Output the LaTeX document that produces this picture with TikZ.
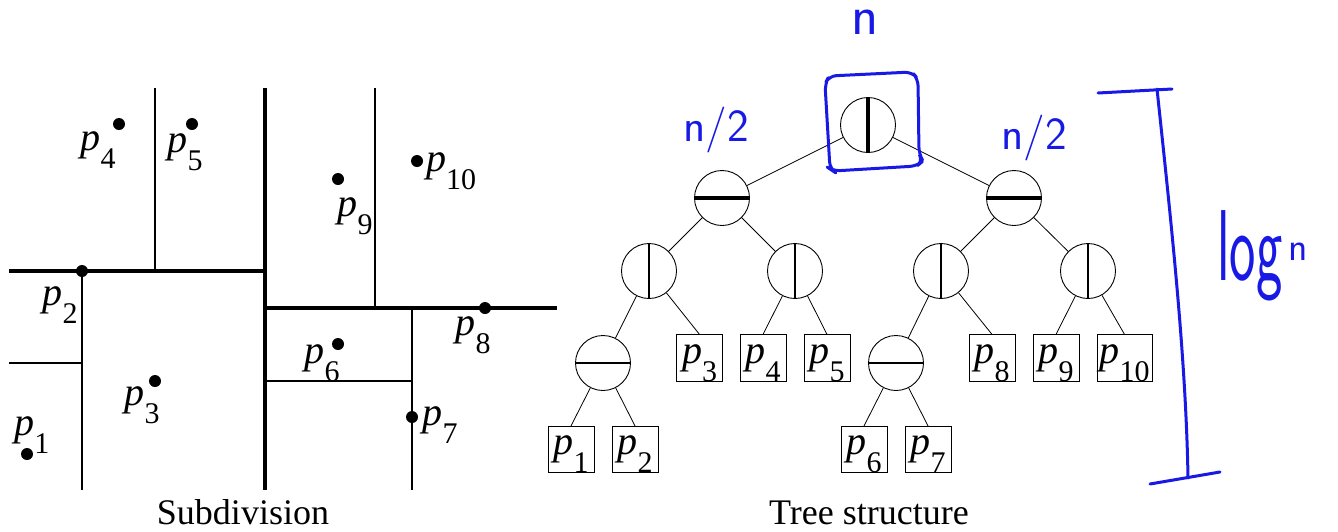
\documentclass[tikz,border=0pt]{standalone}
\usepackage{fontspec}
\setmainfont{Liberation Serif}
\usepackage{xcolor}
\usepackage{tikz}
\usetikzlibrary{positioning,calc}

\definecolor{pen}{RGB}{25,25,230}
\newcommand{\pl}[1]{\textit{p}\raisebox{-0.45em}{\fontsize{30}{30}\selectfont #1}}

\begin{document}
\begin{tikzpicture}[
  x=1pt, y=-1pt,
  font=\fontsize{40}{44}\selectfont,
  cell/.style={circle, draw, line width=0.9pt, minimum size=55pt, inner sep=0pt},
  vcut/.style={cell, path picture={\draw[line width=#1]
      (path picture bounding box.north) -- (path picture bounding box.south);}},
  hcut/.style={cell, path picture={\draw[line width=#1]
      (path picture bounding box.west) -- (path picture bounding box.east);}},
  leaf/.style={draw, line width=0.8pt, inner sep=0pt, inner xsep=2.5pt,
               minimum width=46pt, text height=28.4pt, text depth=18pt},
  link/.style={line width=0.8pt},
  thickcut/.style={line width=4.5pt},
  thincut/.style={line width=1.2pt},
  site/.style={circle, fill, inner sep=0pt, minimum size=12pt},
  lab/.style={inner sep=0pt},
  caption/.style={anchor=base, font=\fontsize{36}{40}\selectfont},
  hand/.style={pen, line width=3pt, line cap=round, line join=round},
  note/.style={text=pen, inner sep=0pt, font=\sffamily\fontsize{46}{46}\selectfont}
]
\useasboundingbox (0,0) rectangle (1338,531);

% Subdivision: cut lines
\draw[thickcut] (265,88) -- (265,490);
\draw[thickcut] (9,271) -- (265,271);
\draw[thickcut] (265,308) -- (557,308);
\draw[thincut] (82,271) -- (82,490);
\draw[thincut] (9,363) -- (82,363);
\draw[thincut] (155,88) -- (155,271);
\draw[thincut] (375,88) -- (375,308);
\draw[thincut] (412,308) -- (412,490);
\draw[thincut] (265,381) -- (412,381);

% Subdivision: points
\node[site] (s1) at (27,454) {};
\node[site] (s2) at (82,271) {};
\node[site] (s3) at (155,381) {};
\node[site] (s4) at (119,124) {};
\node[site] (s5) at (192,124) {};
\node[site] (s6) at (338,344) {};
\node[site] (s7) at (412,417) {};
\node[site] (s8) at (485,308) {};
\node[site] (s9) at (338,179) {};
\node[site] (s10) at (417,161) {};

\node[lab] (l1) at (32,435) {\pl{1}};
\node[lab] (l2) at (60,305) {\pl{2}};
\node[lab] (l3) at (142,405) {\pl{3}};
\node[lab] (l4) at (98,150) {\pl{4}};
\node[lab] (l5) at (185,152) {\pl{5}};
\node[lab] (l6) at (322,363) {\pl{6}};
\node[lab] (l7) at (440,425) {\pl{7}};
\node[lab] (l8) at (473,335) {\pl{8}};
\node[lab] (l9) at (355,216) {\pl{9}};
\node[lab] (l10) at (451,171) {\pl{10}};

\node[caption] (subcap) at (243,524) {Subdivision};

% Tree: inner nodes
\node[vcut=4pt] (r) at (868,125) {};
\node[hcut=3.5pt] (a) at (722,198) {};
\node[hcut=3.5pt] (b) at (1014,198) {};
\node[vcut=1.6pt] (aa) at (649,271) {};
\node[vcut=1.6pt] (ab) at (795,271) {};
\node[vcut=1.6pt] (ba) at (941,271) {};
\node[vcut=1.6pt] (bb) at (1088,271) {};
\node[hcut=1.1pt] (aaa) at (603,363) {};
\node[hcut=1.1pt] (baa) at (896,363) {};

% Tree: leaves
\node[leaf] (q3) at (699.5,358) {\pl{3}};
\node[leaf] (q4) at (763,358) {\pl{4}};
\node[leaf] (q5) at (827,358) {\pl{5}};
\node[leaf] (q8) at (992,358) {\pl{8}};
\node[leaf] (q9) at (1056,358) {\pl{9}};
\node[leaf] (q10) at (1124.5,358) {\pl{10}};
\node[leaf] (q1) at (571,449.5) {\pl{1}};
\node[leaf] (q2) at (635,449.5) {\pl{2}};
\node[leaf] (q6) at (864,449.5) {\pl{6}};
\node[leaf] (q7) at (928,449.5) {\pl{7}};

% Tree: edges
\draw[link] (r) -- (a);
\draw[link] (r) -- (b);
\draw[link] (a) -- (aa);
\draw[link] (a) -- (ab);
\draw[link] (b) -- (ba);
\draw[link] (b) -- (bb);
\draw[link] (aa) -- (aaa);
\draw[link] (aa) -- (q3.north);
\draw[link] (ab) -- (q4.north);
\draw[link] (ab) -- (q5.north);
\draw[link] (ba) -- (baa);
\draw[link] (ba) -- (q8.north);
\draw[link] (bb) -- (q9.north);
\draw[link] (bb) -- (q10.north);
\draw[link] (aaa) -- (q1.north);
\draw[link] (aaa) -- (q2.north);
\draw[link] (baa) -- (q6.north);
\draw[link] (baa) -- (q7.north);

\node[caption] (treecap) at (869,524) {Tree structure};

% Handwritten notes
\draw[hand, rounded corners=7pt] (830,169) -- (825,84) -- (829,76) -- (912,72)
  -- (918,79) -- (919,154) -- (923,161) -- (917,166) -- (833,171) -- cycle;
\node[note, font=\sffamily\fontsize{56}{56}\selectfont, text height=0.45em,
      text depth=0pt] (nroot) at (865,32) {n};
\node[note] (nleft) at (716,130) {n/2};
\node[note] (nright) at (1034,138) {n/2};

\coordinate (bartop) at (1157,89);
\coordinate (barbot) at (1188,478);
\draw[hand] (1098,93) -- (1172,89);
\draw[hand] (bartop) .. controls (1172,230) and (1186,360) .. (barbot);
\draw[hand] (1150,484) -- (1220,472);
\node[note, anchor=base west, font=\sffamily\fontsize{56}{56}\selectfont] (logn) at (1217,280)
  {\scalebox{1}[1.8]{log}\kern6pt\raisebox{20pt}{\fontsize{40}{40}\selectfont n}};
\end{tikzpicture}
\end{document}
